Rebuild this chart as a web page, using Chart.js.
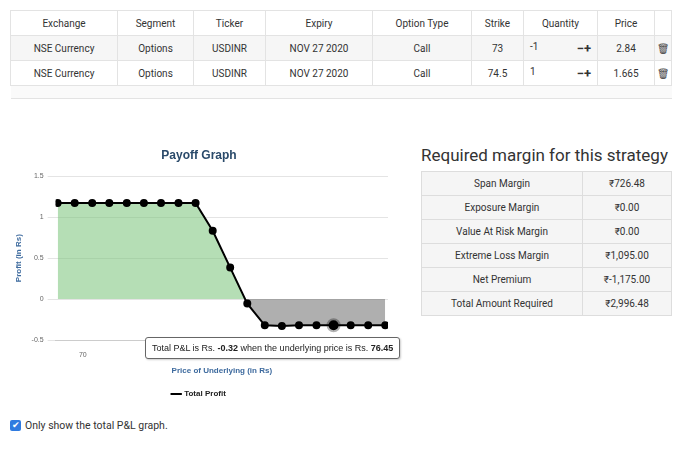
<!DOCTYPE html>
<html>
<head>
<meta charset="utf-8">
<script src="https://cdn.jsdelivr.net/npm/chart.js@4"></script>
<style>
  body { margin: 0; width: 700px; height: 452px; background: #fff; font-family: "Roboto", sans-serif; color: #333; position: relative; overflow: hidden; }
  table { border-collapse: collapse; font-size: 10px; }
  #legs { position: absolute; left: 10px; top: 10px; width: 662px; }
  #legs td, #legs th { border: 1px solid #e3e3e3; text-align: center; height: 24px; padding: 0; font-weight: normal; }
  #legs tbody tr:nth-child(1) { background: #f6f6f6; }
  #legs tr.empty td { height: 12px; border-left: none; border-right: none; background: #fafafa; }
  .qty { text-align: left !important; padding-left: 6px !important; }
  .qty b { float: right; margin-right: 6px; font-size: 13px; }
  #margin { position: absolute; left: 421px; top: 171px; width: 251px; }
  #margin td { border: 1px solid #ddd; height: 23px; padding: 0; text-align: center; background: #f5f5f5; }
  #margin td:first-child { width: 160px; }
  #mtitle { position: absolute; left: 421px; top: 145px; font-size: 17px; color: #333; }
  #wrap { position: absolute; left: 10px; top: 140px; width: 390px; height: 268px; }
  #tip { position: absolute; background: #fff; border: 1px solid #666; border-radius: 3px; font: 9px "Liberation Sans", sans-serif; padding: 5px 6px; white-space: nowrap; color: #222; box-shadow: 1px 1px 2px rgba(0,0,0,.2); }
  #chk { position: absolute; left: 10px; top: 419px; font-size: 10.5px; display: flex; align-items: center; }
  #chk span.box { width: 11px; height: 11px; background: #2f7be0; border-radius: 2px; color: #fff; font-size: 9px; line-height: 11px; text-align: center; margin-right: 4px; }
</style>
</head>
<body>
<table id="legs">
  <thead><tr><th style="width:106px">Exchange</th><th style="width:75px">Segment</th><th style="width:71px">Ticker</th><th style="width:106px">Expiry</th><th style="width:98px">Option Type</th><th style="width:51px">Strike</th><th style="width:73px">Quantity</th><th style="width:56px">Price</th><th></th></tr></thead>
  <tbody>
    <tr><td>NSE Currency</td><td>Options</td><td>USDINR</td><td>NOV 27 2020</td><td>Call</td><td>73</td><td class="qty">-1<b>−+</b></td><td>2.84</td><td>🗑</td></tr>
    <tr><td>NSE Currency</td><td>Options</td><td>USDINR</td><td>NOV 27 2020</td><td>Call</td><td>74.5</td><td class="qty">1<b>−+</b></td><td>1.665</td><td>🗑</td></tr>
    <tr class="empty"><td colspan="9"></td></tr>
  </tbody>
</table>

<div id="wrap"><canvas id="payoff"></canvas><div id="tip" style="display:none"></div></div>

<div id="mtitle">Required margin for this strategy</div>
<table id="margin">
  <tr><td>Span Margin</td><td>₹726.48</td></tr>
  <tr><td>Exposure Margin</td><td>₹0.00</td></tr>
  <tr><td>Value At Risk Margin</td><td>₹0.00</td></tr>
  <tr><td>Extreme Loss Margin</td><td>₹1,095.00</td></tr>
  <tr><td>Net Premium</td><td>₹-1,175.00</td></tr>
  <tr><td>Total Amount Required</td><td>₹2,996.48</td></tr>
</table>

<div id="chk"><span class="box">✔</span>Only show the total P&amp;L graph.</div>

<script>
const prices = [69.35, 69.79, 70.24, 70.68, 71.13, 71.57, 72.01, 72.46, 72.90, 73.34, 73.79, 74.23, 74.68, 75.12, 75.56, 76.01, 76.45, 76.89, 77.34, 77.78];
const profits = [1.175, 1.175, 1.175, 1.175, 1.175, 1.175, 1.175, 1.175, 1.175, 0.835, 0.385, -0.055, -0.32, -0.33, -0.32, -0.32, -0.32, -0.32, -0.32, -0.32];
const activeIndex = 16;

const tip = document.getElementById("tip");

const chart = new Chart("payoff", {
  type: "line",
  data: {
    datasets: [{
      label: "Total Profit",
      data: prices.map((p, i) => ({ x: p, y: profits[i] })),
      borderColor: "#000",
      backgroundColor: "#000",
      borderWidth: 2,
      pointRadius: 3,
      pointHoverRadius: 5,
      pointHoverBorderColor: "rgba(0,0,0,0.3)",
      pointHoverBorderWidth: 4,
      tension: 0,
      fill: { target: "origin", above: "rgba(120,195,120,0.55)", below: "rgba(110,110,110,0.55)" },
    }],
  },
  options: {
    responsive: true,
    maintainAspectRatio: false,
    animation: false,
    layout: { padding: { right: 12, top: 4 } },
    plugins: {
      title: { display: true, text: "Payoff Graph", color: "#2a4a6a", font: { size: 12, weight: "bold", family: "Liberation Sans" }, padding: { top: 4, bottom: 14 } },
      legend: {
        position: "bottom",
        labels: { usePointStyle: true, pointStyle: "line", color: "#222", font: { size: 8, weight: "bold", family: "Liberation Sans" } },
      },
      tooltip: {
        enabled: false,
        external: (ctx) => {
          const t = ctx.tooltip;
          if (!t.dataPoints || !t.dataPoints.length) { tip.style.display = "none"; return; }
          const dp = t.dataPoints[0];
          tip.innerHTML = "Total P&amp;L is Rs. <b>" + dp.parsed.y.toFixed(2) + "</b> when the underlying price is Rs. <b>" + dp.parsed.x + "</b>";
          tip.style.display = "block";
          const w = tip.offsetWidth;
          tip.style.left = (t.caretX - w * 0.74) + "px";
          tip.style.top = (t.caretY + 12) + "px";
        },
      },
    },
    scales: {
      x: {
        type: "linear",
        min: 69.3, max: 77.85,
        ticks: { stepSize: 2, callback: (v) => (v % 2 === 0 ? v : ""), color: "#666", font: { size: 7 } },
        grid: { display: false },
        border: { color: "#ccc" },
        title: { display: true, text: "Price of Underlying (in Rs)", color: "#3d6a9e", font: { size: 8, weight: "bold", family: "Liberation Sans" } },
      },
      y: {
        min: -0.5, max: 1.5,
        ticks: { stepSize: 0.5, callback: (v) => String(v), color: "#666", font: { size: 7 }, padding: 4 },
        grid: { color: "#e4e4e4" },
        border: { display: false },
        title: { display: true, text: "Profit (in Rs)", color: "#3d6a9e", font: { size: 8, weight: "bold", family: "Liberation Sans" } },
      },
    },
  },
});

const el = [{ datasetIndex: 0, index: activeIndex }];
const pt = chart.getDatasetMeta(0).data[activeIndex];
chart.setActiveElements(el);
chart.tooltip.setActiveElements(el, { x: pt.x, y: pt.y });
chart.update();
</script>
</body>
</html>
